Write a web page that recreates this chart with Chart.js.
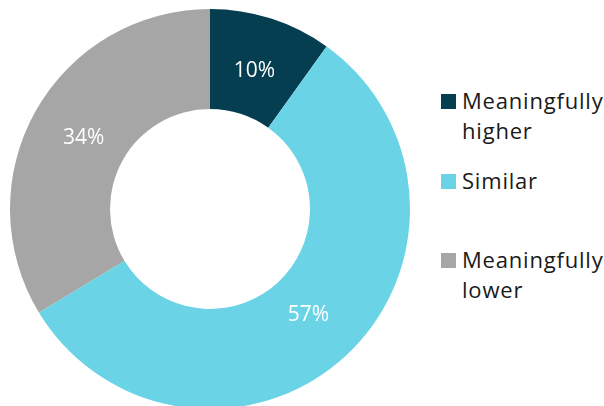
<!DOCTYPE html>
<html>
<head>
<meta charset="utf-8">
<script src="https://cdn.jsdelivr.net/npm/chart.js@4"></script>
<style>
  html, body { margin: 0; padding: 0; background: #ffffff; overflow: hidden; }
  body { width: 604px; height: 406px; position: relative; font-family: "Open Sans", Lato, sans-serif; }
  #wrap { position: absolute; left: 10px; top: 9px; width: 400px; height: 400px; }
  #legend { position: absolute; left: 441px; top: 0; }
  .item { position: absolute; left: 0; white-space: nowrap; }
  .sw { position: absolute; left: 0; width: 15px; height: 15px; }
  .txt { position: absolute; left: 21px; font-size: 22px; letter-spacing: 0.8px; line-height: 30px; color: #1a1a1a; }
</style>
</head>
<body>
<div id="wrap"><canvas id="c" width="400" height="400"></canvas></div>
<div id="legend"></div>
<script>
// Share of responses per category (percent)
const categories = ['Meaningfully higher', 'Similar', 'Meaningfully lower'];
const legendLines = [['Meaningfully', 'higher'], ['Similar'], ['Meaningfully', 'lower']];
const shares = [10, 57, 34];
const colors = ['#043e50', '#6bd3e6', '#a6a6a6'];

// Legend placement (top of first text line per entry)
const legendTops = [85, 165, 244];

const legendEl = document.getElementById('legend');
categories.forEach((name, i) => {
  const item = document.createElement('div');
  item.className = 'item';
  item.style.top = legendTops[i] + 'px';
  const sw = document.createElement('div');
  sw.className = 'sw';
  sw.style.background = colors[i];
  sw.style.top = '9px';
  const txt = document.createElement('div');
  txt.className = 'txt';
  txt.innerHTML = legendLines[i].join('<br>');
  item.appendChild(sw);
  item.appendChild(txt);
  legendEl.appendChild(item);
});

// Draws the percentage inside each ring segment
const sliceLabels = {
  id: 'sliceLabels',
  afterDatasetsDraw(chart) {
    const ctx = chart.ctx;
    const meta = chart.getDatasetMeta(0);
    ctx.save();
    ctx.fillStyle = '#ffffff';
    ctx.font = '21px "Open Sans", Lato, sans-serif';
    ctx.textAlign = 'center';
    ctx.textBaseline = 'middle';
    meta.data.forEach((arc, i) => {
      const p = arc.getProps(['x', 'y', 'startAngle', 'endAngle', 'innerRadius', 'outerRadius'], true);
      const mid = (p.startAngle + p.endAngle) / 2;
      const r = p.innerRadius + (p.outerRadius - p.innerRadius) * 0.45;
      ctx.fillText(shares[i] + '%', p.x + Math.cos(mid) * r, p.y + Math.sin(mid) * r);
    });
    ctx.restore();
  }
};

new Chart(document.getElementById('c'), {
  type: 'doughnut',
  data: {
    labels: categories,
    datasets: [{
      data: shares,
      backgroundColor: colors,
      borderWidth: 0
    }]
  },
  options: {
    responsive: false,
    animation: false,
    cutout: '50%',
    layout: { padding: 0 },
    plugins: {
      legend: { display: false },
      tooltip: { enabled: false }
    }
  },
  plugins: [sliceLabels]
});
</script>
</body>
</html>
